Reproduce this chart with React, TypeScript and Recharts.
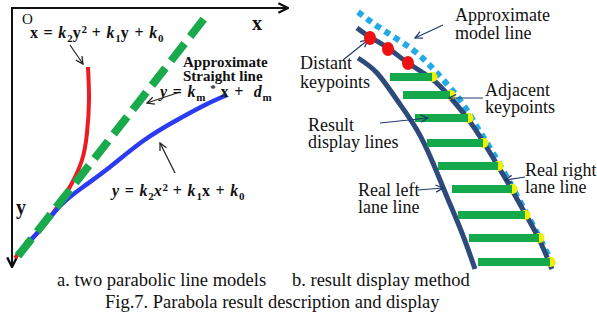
import React from 'react';
import { ComposedChart, Line, Scatter, XAxis, YAxis } from 'recharts';

const W = 597;
const H = 322;

type P = { x: number; y: number };
const pts = (arr: number[][]): P[] => arr.map(([x, y]) => ({ x, y }));

// left panel: two parabolic line models (picture pixels, y down)
const axisXLine = pts([[11, 8], [288, 8]]);
const axisYLine = pts([[12, 8], [12, 267]]);
const redCurve = pts([[88, 67], [89, 100], [87, 133], [82, 160], [72, 183], [62, 200], [50, 217], [37, 233], [23, 248], [15, 258]]);
const straightLine = pts([[18, 256], [207, 15]]);
const blueCurve = pts([[17, 254], [40, 230], [60, 206], [83, 187], [110, 167], [143, 141], [177, 120], [207, 104], [227, 95]]);
const leftArrows = [[70, 45, 83, 64], [180, 92, 147, 103], [175, 173, 160, 143]];

// right panel: result display method
const modelLine = pts([[358, 12], [383, 30], [413, 50], [437, 73], [460, 100], [477, 127], [493, 153], [510, 183], [523, 207], [537, 233], [553, 265]]);
const rightLane = pts([[357, 28], [370, 37], [388, 48], [408, 63], [432, 79], [450, 97], [468, 119], [484, 143], [498, 166], [512, 190], [526, 215], [539, 239], [549, 262], [552, 269]]);
const leftLane = pts([[358, 58], [377, 73], [397, 100], [417, 130], [433, 163], [447, 197], [462, 233], [475, 269]]);
const distantKeypoints = pts([[370, 38], [388, 49], [408, 63]]);
const barStart = [390, 403, 415, 427, 438, 452, 458, 469, 478];
const barEnd = [432, 450, 468, 483, 498, 512, 525, 539, 550];
const barRow = [77, 95, 118, 143, 166, 189, 215, 238, 262];
const rightArrows = [[443, 25, 415, 38], [343, 60, 368, 40], [483, 98, 449, 98], [380, 123, 428, 118], [525, 177, 505, 180], [418, 190, 443, 188]];

// texts
const leftTitles = [
  { x: 183, y: 62, text: 'Approximate' },
  { x: 183, y: 76, text: 'Straight line' },
];
const axisNames = [
  { x: 252, y: 23, text: 'x' },
  { x: 16, y: 207, text: 'y' },
];
const originName = [{ x: 22, y: 19, text: 'O' }];
const formulas = [
  { x: 30, y: 33, parts: [['x = ', ''], ['k', 'i'], ['2', 'sub'], ['y', ''], ['2', 'sup'], [' + ', ''], ['k', 'i'], ['1', 'sub'], ['y + ', ''], ['k', 'i'], ['0', 'sub']] },
  { x: 160, y: 92, parts: [['y', 'i'], [' = ', ''], ['k', 'i'], ['m', 'sub'], [' ', ''], ['*', 'sup'], [' x +  ', ''], ['d', 'i'], ['m', 'sub']] },
  { x: 112, y: 191, parts: [['y', 'i'], [' = ', ''], ['k', 'i'], ['2', 'sub'], ['x', 'i'], ['2', 'sup'], [' + ', ''], ['k', 'i'], ['1', 'sub'], ['x + ', ''], ['k', 'i'], ['0', 'sub']] },
];
const rightLabels = [
  { x: 455, y: 15, text: 'Approximate' },
  { x: 455, y: 33, text: 'model line' },
  { x: 300, y: 63, text: 'Distant' },
  { x: 300, y: 82, text: 'keypoints' },
  { x: 485, y: 90, text: 'Adjacent' },
  { x: 485, y: 107, text: 'keypoints' },
  { x: 308, y: 125, text: 'Result' },
  { x: 308, y: 142, text: 'display lines' },
  { x: 525, y: 170, text: 'Real right' },
  { x: 525, y: 187, text: 'lane line' },
  { x: 358, y: 190, text: 'Real left' },
  { x: 358, y: 207, text: 'lane line' },
];
const captions = [
  { x: 57, y: 280, text: 'a. two parabolic line models' },
  { x: 292, y: 280, text: 'b. result display method' },
  { x: 105, y: 302, text: 'Fig.7. Parabola result description and display' },
];

const SERIF = '"Liberation Serif", "Times New Roman", serif';

const textShape = (size: number, weight: string, color = '#111') => (props: any) => (
  <text x={props.cx} y={props.cy} dominantBaseline="central" fontFamily={SERIF} fontSize={size} fontWeight={weight} fill={color} style={{ whiteSpace: 'pre' }}>
    {props.payload.text}
  </text>
);

const formulaShape = (props: any) => {
  let shift = 0;
  const spans = props.payload.parts.map(([t, kind]: string[], i: number) => {
    const target = kind === 'sub' ? 4 : kind === 'sup' ? -5 : 0;
    const dy = target - shift;
    shift = target;
    const small = kind === 'sub' || kind === 'sup';
    return (
      <tspan key={i} dy={dy} fontSize={small ? 11 : 16} fontStyle={kind === 'i' ? 'italic' : 'normal'} letterSpacing={small ? 0 : 0.8}>
        {t}
      </tspan>
    );
  });
  return (
    <text x={props.cx} y={props.cy + 5} fontFamily={SERIF} fontWeight="bold" fill="#111" style={{ whiteSpace: 'pre' }}>
      {spans}
    </text>
  );
};

const line = (key: string, data: P[], stroke: string, width: number, extra: any = {}) => (
  <Line
    key={key}
    data={data}
    dataKey="y"
    type="linear"
    stroke={stroke}
    strokeWidth={width}
    dot={false}
    activeDot={false}
    legendType="none"
    isAnimationActive={false}
    {...extra}
  />
);

export default function App() {
  return (
    <div style={{ width: W, height: H, background: '#fff' }}>
      <style>{'body{margin:0}'}</style>
      <ComposedChart width={W} height={H} margin={{ top: 0, right: 0, bottom: 0, left: 0 }}>
        <defs>
          <marker id="arrK" viewBox="0 0 10 10" refX="9" refY="5" markerWidth="9" markerHeight="9" markerUnits="userSpaceOnUse" orient="auto">
            <path d="M1,1 L9,5 L1,9" fill="none" stroke="#222" strokeWidth="1.4" />
          </marker>
          <marker id="arrN" viewBox="0 0 10 10" refX="9" refY="5" markerWidth="9" markerHeight="9" markerUnits="userSpaceOnUse" orient="auto">
            <path d="M1,1 L9,5 L1,9" fill="none" stroke="#1f3a6e" strokeWidth="1.4" />
          </marker>
          <marker id="arrAxis" viewBox="0 0 10 10" refX="9" refY="5" markerWidth="12" markerHeight="12" markerUnits="userSpaceOnUse" orient="auto">
            <path d="M1,1 L9,5 L1,9" fill="none" stroke="#111" strokeWidth="2" />
          </marker>
        </defs>
        <XAxis type="number" dataKey="x" domain={[0, W]} allowDataOverflow hide />
        <YAxis type="number" dataKey="y" domain={[0, H]} allowDataOverflow reversed hide />

        {line('axisX', axisXLine, '#111', 2, { markerEnd: 'url(#arrAxis)' })}
        {line('axisY', axisYLine, '#111', 2, { markerEnd: 'url(#arrAxis)' })}
        {line('red', redCurve, '#ec1c24', 4, { type: 'natural' })}
        {line('blue', blueCurve, '#2b3bf2', 4.5, { type: 'natural' })}
        {line('straight', straightLine, '#19aa4b', 8, { strokeDasharray: '22 9' })}
        {leftArrows.map(([x1, y1, x2, y2], i) =>
          line(`la${i}`, pts([[x1, y1], [x2, y2]]), '#222', 1.2, { markerEnd: 'url(#arrK)' })
        )}

        {line('model', modelLine, '#22a9e6', 6, { type: 'natural', strokeDasharray: '6 5' })}
        {line('rightLane', rightLane, '#2e4a7a', 5, { type: 'natural' })}
        {line('leftLane', leftLane, '#2e4a7a', 5, { type: 'natural' })}
        {barEnd.map((x, i) =>
          line(`key${i}`, pts([[x, barRow[i]], [x + 0.5, barRow[i]]]), '#eef200', 10, { strokeLinecap: 'round' })
        )}
        {barStart.map((x, i) =>
          line(`bar${i}`, pts([[x, barRow[i]], [barEnd[i], barRow[i]]]), '#14a94a', 8)
        )}
        <Scatter
          data={distantKeypoints}
          isAnimationActive={false}
          shape={(p: any) => <ellipse cx={p.cx} cy={p.cy} rx={6} ry={7} fill="#ee1111" />}
        />
        {rightArrows.map(([x1, y1, x2, y2], i) =>
          line(`ra${i}`, pts([[x1, y1], [x2, y2]]), '#1f3a6e', 1.2, { markerEnd: 'url(#arrN)' })
        )}

        <Scatter data={leftTitles} isAnimationActive={false} shape={textShape(15, 'bold')} />
        <Scatter data={axisNames} isAnimationActive={false} shape={textShape(20, 'bold')} />
        <Scatter data={originName} isAnimationActive={false} shape={textShape(15, 'normal')} />
        <Scatter data={formulas} isAnimationActive={false} shape={formulaShape} />
        <Scatter data={rightLabels} isAnimationActive={false} shape={textShape(18, 'normal')} />
        <Scatter data={captions} isAnimationActive={false} shape={textShape(18.5, 'normal')} />
      </ComposedChart>
    </div>
  );
}
